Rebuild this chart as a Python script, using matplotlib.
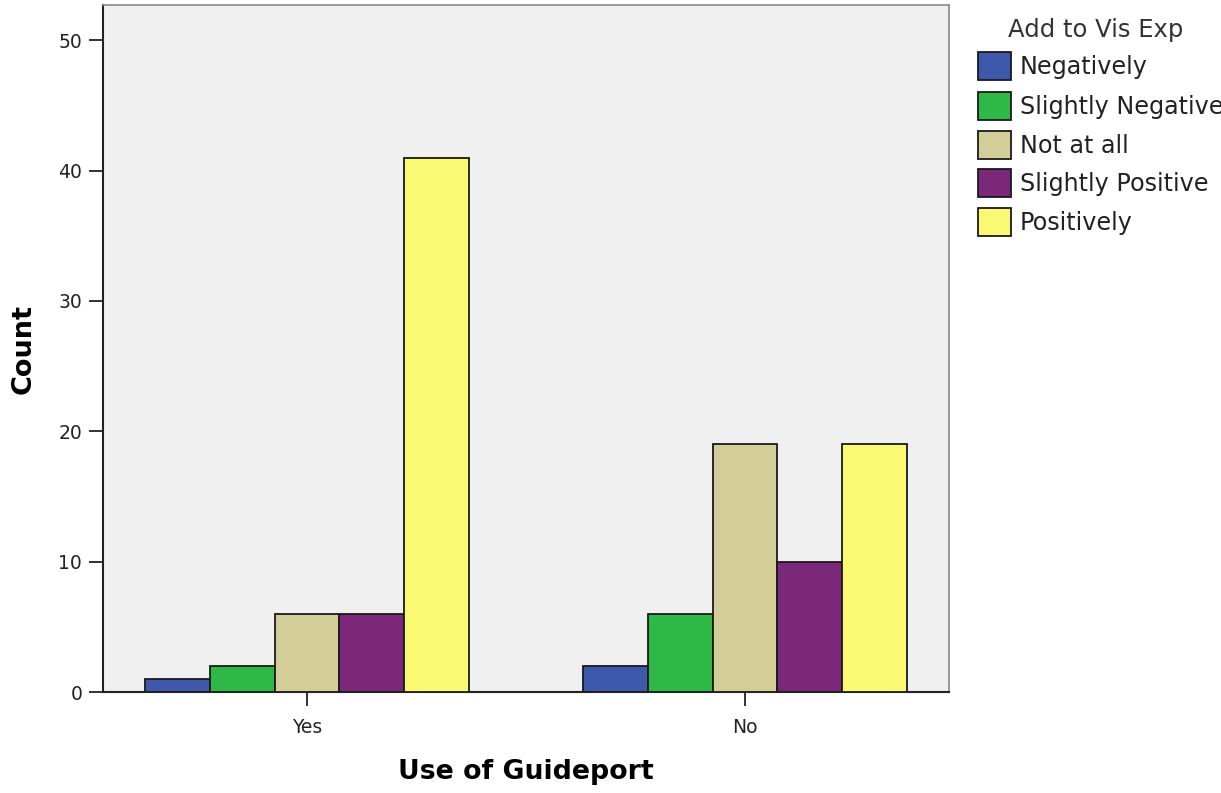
import matplotlib
matplotlib.use("Agg")
import matplotlib.pyplot as plt
from matplotlib.patches import Rectangle
import numpy as np

categories = ["Yes", "No"]
series_names = ["Negatively", "Slightly Negative", "Not at all", "Slightly Positive", "Positively"]
series_values = [
    [1, 2],
    [2, 6],
    [6, 19],
    [6, 10],
    [41, 19],
]
colors = ["#3E58AC", "#2EB848", "#D3CE97", "#7B287A", "#FBF873"]
yticks = [0, 10, 20, 30, 40, 50]

plt.rcParams['font.family'] = ['DejaVu Sans']

fig = plt.figure(figsize=(12.21, 7.93), dpi=100)
ax = fig.add_axes([103/1221, 1 - 692/793, (949-103)/1221, (692-5)/793])
ax.set_facecolor("#F0F0F0")

x = np.arange(len(categories))
w = 0.148
n = len(series_names)
for i, (name, vals, c) in enumerate(zip(series_names, series_values, colors)):
    ax.bar(x + (i - (n-1)/2) * w, vals, width=w, color=c, edgecolor="#1a1a1a",
           linewidth=1.3, label=name, zorder=3)

ax.set_xlim(-0.466, 1.466)
ax.set_ylim(0, 52.7)
ax.set_yticks(yticks)
ax.set_xticks(x)
ax.set_xticklabels(categories)
ax.tick_params(axis='both', labelsize=13.5, length=10, width=1.3, color="#222222", labelcolor="#222222")
ax.tick_params(axis='x', pad=9)
ax.tick_params(axis='y', pad=5)
for s in ["left", "bottom"]:
    ax.spines[s].set_color("#222222")
    ax.spines[s].set_linewidth(1.5)
for s in ["top", "right"]:
    ax.spines[s].set_color("#888888")
    ax.spines[s].set_linewidth(1.2)

ax.set_ylabel("Count", fontsize=19.5, fontweight="bold")
ax.set_xlabel("Use of Guideport", fontsize=19.3, fontweight="bold")
ax.yaxis.set_label_coords(-0.079, 0.5)
ax.xaxis.set_label_coords(0.5, -0.097)

# Legend (manual, clipped by figure edge like the reference)
fig.text(1008/1221, 1 - 37/793, "Add to Vis Exp", fontsize=17.5, va="baseline", ha="left", color="#333333")
row_y = [66, 106, 145, 183, 222]
for name, c, yy in zip(series_names, colors, row_y):
    fig.patches.append(Rectangle((978/1221, 1 - (yy+14)/793), 33/1221, 28/793,
                                 transform=fig.transFigure, facecolor=c, edgecolor="#1a1a1a", linewidth=1.3))
    fig.text(1020/1221, 1 - (yy+8)/793, name, fontsize=17.2, va="baseline", ha="left", color="#222222")

fig.savefig("out.png", dpi=100)
